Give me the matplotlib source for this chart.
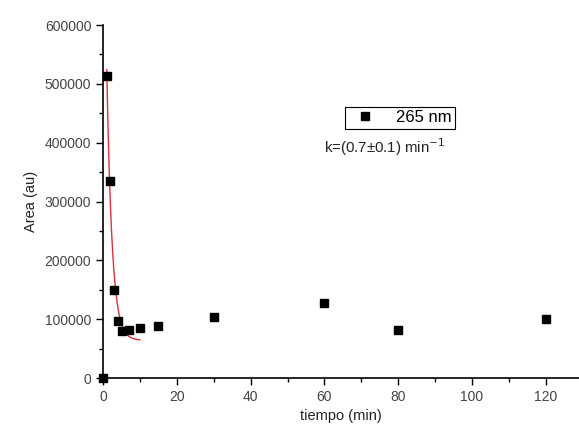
import numpy as np
import matplotlib
matplotlib.use("Agg")
import matplotlib.pyplot as plt
from matplotlib.ticker import MultipleLocator

plt.rcParams['font.family'] = ['Liberation Sans', 'DejaVu Sans']

### data
tiempo = [0, 1, 2, 3, 4, 5, 7, 10, 15, 30, 60, 80, 120]
area = [0, 513000, 335000, 150000, 97000, 80000, 82000, 85000, 89000, 103000, 127000, 81000, 101000]

# exponential fit y = y0 + A*exp(-k*t), drawn from t=1 to t=10
fit_y0 = 64000
fit_A = 926000
fit_k = 0.7
fit_t = np.linspace(1, 10, 200)
fit_area = fit_y0 + fit_A * np.exp(-fit_k * fit_t)

fig = plt.figure(figsize=(5.79, 4.32), dpi=100)
ax = fig.add_axes([0.178, 0.125, 0.822, 0.817])

ax.plot(fit_t, fit_area, color='#e0303a', lw=1.0)
ax.plot(tiempo, area, 's', color='black', ms=6, clip_on=False, zorder=5, label='265 nm')

ax.set_xlim(0, 129)
ax.set_ylim(0, 600000)
ax.xaxis.set_major_locator(MultipleLocator(20))
ax.xaxis.set_minor_locator(MultipleLocator(10))
ax.yaxis.set_major_locator(MultipleLocator(100000))
ax.yaxis.set_minor_locator(MultipleLocator(50000))

for s in ['top', 'right']:
    ax.spines[s].set_visible(False)
for s in ['left', 'bottom']:
    ax.spines[s].set_linewidth(1.2)
ax.tick_params(which='major', direction='out', length=5, width=1, labelsize=10, labelcolor='#444444')
ax.tick_params(which='minor', direction='out', length=3, width=1)

ax.set_xlabel('tiempo (min)', fontsize=10.5, color='#222222', labelpad=4)
ax.set_ylabel('Area (au)', fontsize=10.5, color='#222222', labelpad=5)

leg = ax.legend(loc='upper left', bbox_to_anchor=(0.497, 0.782), fontsize=12,
                fancybox=False, edgecolor='black', framealpha=1, handlelength=2.0,
                borderpad=0.2, handletextpad=0.9, borderaxespad=0.3)
leg.get_frame().set_linewidth(0.8)

ax.text(0.465, 0.655, 'k=(0.7±0.1) min$^{-1}$', transform=ax.transAxes,
        fontsize=10.8, color='#222222', va='center')

fig.savefig('out.png', dpi=100)
